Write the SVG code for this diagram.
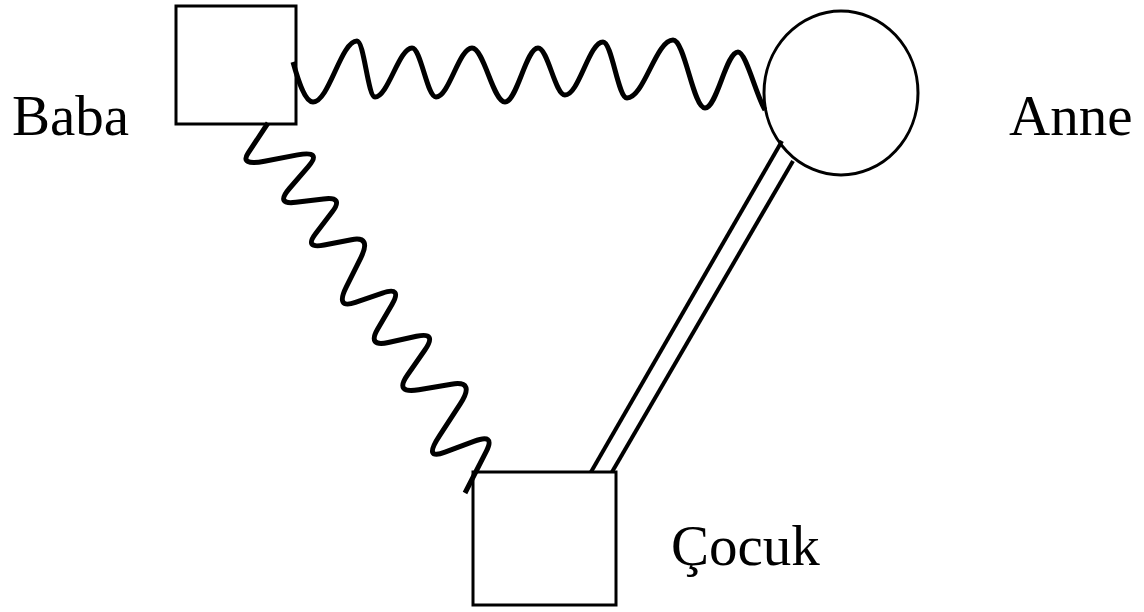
<svg xmlns="http://www.w3.org/2000/svg" width="1144" height="612" viewBox="0 0 1144 612">
<style>
.node{fill:#fff;stroke:#000;stroke-width:3}
.wave{fill:none;stroke:#000;stroke-width:5;stroke-linecap:butt;stroke-linejoin:round}
.dbl{fill:none;stroke:#000;stroke-width:4;stroke-linecap:butt}
.lbl{font-family:"Liberation Serif","Times New Roman",serif;font-size:57px;fill:#000}
</style>
<rect width="1144" height="612" fill="#fff"/>
<g id="baba">
<rect class="node" x="176" y="6" width="120" height="118"/>
<text class="lbl" x="12" y="135">Baba</text>
</g>
<g id="anne">
<ellipse class="node" cx="841" cy="93" rx="77" ry="82"/>
<text class="lbl" x="1009" y="135">Anne</text>
</g>
<g id="cocuk">
<rect class="node" x="473" y="472" width="143" height="133"/>
<text class="lbl" x="671" y="565">Çocuk</text>
</g>
<g id="connectors">
<path class="wave" d="M293,62 C298,80 305,102 313,102 C329,102 341,41 357,41 C364,41 368,97 375,97 C388,97 399,48 412,48 C421,48 427,97 436,97 C449,97 459,48 472,48 C484,48 493,102 505,102 C517,102 526,48 538,48 C548,48 555,95 565,95 C579,95 589,42 603,42 C612,42 618,98 627,98 C644,98 656,40 673,40 C685,40 693,108 705,108 C717,108 726,52 738,52 C746,52 756,95 765,110"/>
<path class="wave" d="M268,123 L248.1,153.1 Q239.6,166 264.5,161.3 L297.6,154.9 Q322.5,150.2 308.3,166.6 L289.4,188.5 Q275.2,204.9 295.9,202.3 L323.5,198.9 Q344.2,196.3 332.1,212.1 L315.9,233.2 Q303.8,249 324.2,245 L351.4,239.7 Q371.8,235.7 360.8,257.8 L346.2,287.2 Q335.2,309.3 355.4,302.4 L382.4,293.1 Q402.6,286.2 392,304.5 L377.8,328.8 Q367.1,347.1 388.3,342.5 L416.5,336.3 Q437.7,331.6 424.7,350.3 L407.3,375.2 Q394.3,393.9 418.8,389.8 L451.4,384.2 Q475.8,380.1 460.1,404.2 L439.1,436.3 Q423.3,460.4 445,452.2 L473.8,441.3 Q495.5,433.1 486.4,451.1 L465,493"/>
<line class="dbl" x1="782" y1="141" x2="591" y2="472"/>
<line class="dbl" x1="793" y1="161" x2="612" y2="472"/>
</g>
</svg>
